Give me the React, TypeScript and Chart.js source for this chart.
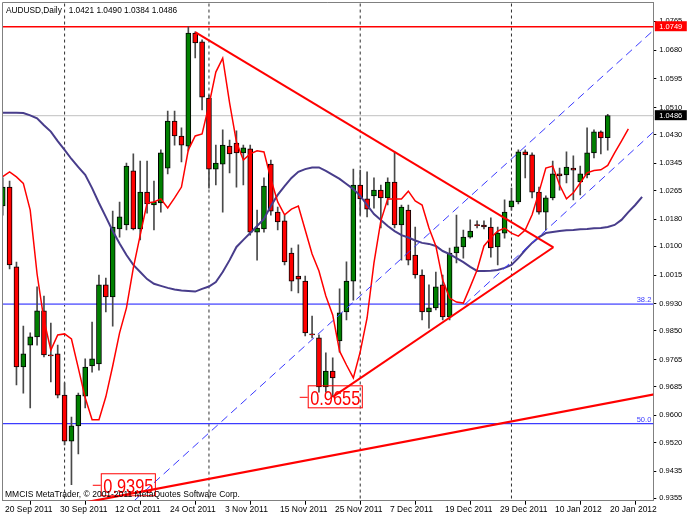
import React, { useEffect, useRef } from "react";
import { Chart, registerables } from "chart.js";

Chart.register(...registerables);

const FONT = "'Liberation Sans', Arial, sans-serif";

// ---------------- data ----------------
const symbolTitle = "AUDUSD,Daily";
const lastBarOHLC = ["1.0421", "1.0490", "1.0384", "1.0486"];
const copyrightText = "MMCIS MetaTrader, \u00A9 2001-2011 MetaQuotes Software Corp.";

const dateTickIndex = [0, 8, 16, 24, 32, 40, 48, 56, 64, 72, 80, 88];
const dateTickLabels = [
  "20 Sep 2011", "30 Sep 2011", "12 Oct 2011", "24 Oct 2011", "3 Nov 2011", "15 Nov 2011",
  "25 Nov 2011", "7 Dec 2011", "19 Dec 2011", "29 Dec 2011", "10 Jan 2012", "20 Jan 2012",
];
const priceTickLabels = [
  "0.9355", "0.9435", "0.9520", "0.9600", "0.9685", "0.9765", "0.9850", "0.9930", "1.0015",
  "1.0100", "1.0180", "1.0265", "1.0345", "1.0430", "1.0510", "1.0595", "1.0680", "1.0765",
];

const opens = [
  1.0219, 1.0275, 1.0039, 0.9743, 0.9808, 0.9832, 0.9909, 0.9779, 0.9782, 0.9660,
  0.9524, 0.9569, 0.9657, 0.9746, 0.9752, 0.9986, 0.9950, 1.0151, 1.0163, 1.0323,
  1.0151, 1.0260, 1.0222, 1.0228, 1.0331, 1.0470, 1.0426, 1.0396, 1.0730, 1.0704,
  1.0538, 1.0328, 1.0343, 1.0396, 1.0405, 1.0376, 1.0388, 1.0142, 1.0151, 1.0343,
  1.0201, 1.0175, 1.0080, 1.0012, 0.9997, 0.9841, 0.9829, 0.9684, 0.9731, 0.9820,
  0.9906, 0.9997, 1.0281, 1.0240, 1.0249, 1.0266, 1.0243, 1.0290, 1.0163, 1.0207,
  1.0074, 1.0015, 0.9906, 0.9918, 0.9986, 0.9891, 1.0080, 1.0098, 1.0127, 1.0163,
  1.0163, 1.0157, 1.0098, 1.0139, 1.0216, 1.0231, 1.0379, 1.0370, 1.0260, 1.0201,
  1.0243, 1.0314, 1.0311, 1.0331, 1.0290, 1.0311, 1.0376, 1.0438, 1.0421,
];
const highs = [
  1.0302, 1.0293, 1.0053, 0.9864, 0.9844, 0.9980, 0.9953, 0.9873, 0.9808, 0.9696,
  0.9595, 0.9666, 0.9767, 0.9876, 1.0015, 1.0006, 1.0204, 1.0231, 1.0346, 1.0373,
  1.0352, 1.0352, 1.0293, 1.0385, 1.0500, 1.0500, 1.0450, 1.0749, 1.0734, 1.0710,
  1.0547, 1.0399, 1.0444, 1.0414, 1.0441, 1.0399, 1.0399, 1.0207, 1.0302, 1.0355,
  1.0216, 1.0192, 1.0095, 1.0104, 1.0012, 0.9894, 0.9838, 0.9785, 0.9770, 0.9974,
  1.0054, 1.0328, 1.0325, 1.0320, 1.0302, 1.0281, 1.0302, 1.0379, 1.0222, 1.0222,
  1.0157, 1.0030, 0.9986, 1.0024, 1.0015, 1.0095, 1.0192, 1.0148, 1.0178, 1.0175,
  1.0175, 1.0184, 1.0157, 1.0237, 1.0272, 1.0385, 1.0385, 1.0376, 1.0275, 1.0249,
  1.0352, 1.0331, 1.0379, 1.0367, 1.0337, 1.0450, 1.0444, 1.0441, 1.0490,
];
const lows = [
  1.0192, 1.0033, 0.9690, 0.9666, 0.9622, 0.9808, 0.9773, 0.9699, 0.9652, 0.9513,
  0.9395, 0.9486, 0.9622, 0.9728, 0.9734, 0.9906, 0.9864, 1.0127, 1.0148, 1.0148,
  1.0119, 1.0198, 1.0148, 1.0201, 1.0314, 1.0399, 1.0349, 1.0382, 1.0657, 1.0503,
  1.0272, 1.0281, 1.0201, 1.0317, 1.0275, 1.0281, 1.0133, 1.0059, 1.0142, 1.0192,
  1.0148, 1.0045, 0.9968, 0.9962, 0.9835, 0.9829, 0.9669, 0.9669, 0.9655, 0.9787,
  0.9882, 0.9941, 1.0192, 1.0187, 1.0213, 1.0154, 1.0222, 1.0154, 1.0059, 1.0045,
  1.0006, 0.9882, 0.9858, 0.9912, 0.9882, 0.9882, 1.0051, 1.0065, 1.0124, 1.0154,
  1.0151, 1.0068, 1.0045, 1.0124, 1.0207, 1.0225, 1.0302, 1.0243, 1.0195, 1.0148,
  1.0237, 1.0266, 1.0287, 1.0237, 1.0252, 1.0302, 1.0361, 1.0373, 1.0384,
];
const closes = [
  1.0275, 1.0045, 0.9743, 0.9782, 0.9832, 0.9909, 0.9779, 0.9776, 0.9660, 0.9524,
  0.9569, 0.9660, 0.9743, 0.9767, 0.9986, 0.9950, 1.0157, 1.0187, 1.0337, 1.0151,
  1.0260, 1.0225, 1.0231, 1.0376, 1.0470, 1.0426, 1.0399, 1.0730, 1.0701, 1.0541,
  1.0328, 1.0346, 1.0399, 1.0373, 1.0376, 1.0391, 1.0142, 1.0154, 1.0278, 1.0204,
  1.0172, 1.0054, 0.9997, 1.0003, 0.9844, 0.9838, 0.9684, 0.9731, 0.9711, 0.9903,
  0.9997, 1.0281, 1.0240, 1.0210, 1.0266, 1.0243, 1.0290, 1.0163, 1.0216, 1.0059,
  1.0015, 0.9906, 0.9918, 0.9980, 0.9891, 1.0080, 1.0098, 1.0127, 1.0145, 1.0161,
  1.0157, 1.0095, 1.0139, 1.0201, 1.0234, 1.0379, 1.0370, 1.0260, 1.0201, 1.0243,
  1.0314, 1.0308, 1.0334, 1.0325, 1.0314, 1.0376, 1.0438, 1.0420, 1.0486,
];

// red shifted moving average (one value per bar, starting at bar 0)
const fastMA = [
  1.0306, 1.0320, 1.0305, 1.0286, 1.0207, 1.0018, 0.9882, 0.9793, 0.9838, 0.9841,
  0.9826, 0.9740, 0.9652, 0.9587, 0.9587, 0.9655, 0.9746, 0.9844, 0.9918, 1.0036,
  1.0133, 1.0228, 1.0231, 1.0240, 1.0213, 1.0243, 1.0275, 1.0385, 1.0426, 1.0432,
  1.0518, 1.0615, 1.0656, 1.0524, 1.0408, 1.0355, 1.0373, 1.0382, 1.0379, 1.0299,
  1.0231, 1.0193, 1.0210, 1.0219, 1.0148, 1.0077, 1.0027, 0.9953, 0.9897, 0.9790,
  0.9749, 0.9711, 0.9788, 0.9888, 1.0051, 1.0175, 1.0240, 1.0240, 1.0240, 1.0263,
  1.0234, 1.0222, 1.0154, 1.0101, 1.0000, 0.9947, 0.9935, 0.9932, 0.9980, 1.0030,
  1.0101, 1.0125, 1.0145, 1.0154, 1.0139, 1.0130, 1.0148, 1.0193, 1.0260, 1.0331,
  1.0337, 1.0281, 1.0240, 1.0258, 1.0287, 1.0317, 1.0324, 1.0326, 1.0339, 1.0376,
  1.0411, 1.0447,
];
// slow (dark slate blue) shifted moving average
const slowMA = [
  1.0495, 1.0495, 1.0495, 1.0494, 1.0487, 1.0478, 1.0458, 1.0439, 1.0411, 1.0385,
  1.0358, 1.0334, 1.0311, 1.0272, 1.0228, 1.0187, 1.0145, 1.0108, 1.0074, 1.0045,
  1.0024, 1.0003, 0.9989, 0.9983, 0.9977, 0.9972, 0.9969, 0.9968, 0.9966, 0.9974,
  0.9981, 0.9994, 1.0024, 1.0059, 1.0098, 1.0119, 1.0139, 1.0160, 1.0181, 1.0219,
  1.0252, 1.0278, 1.0302, 1.0320, 1.0328, 1.0333, 1.0333, 1.0323, 1.0311, 1.0299,
  1.0284, 1.0269, 1.0249, 1.0222, 1.0195, 1.0178, 1.0160, 1.0145, 1.0133, 1.0126,
  1.0117, 1.0110, 1.0107, 1.0101, 1.0086, 1.0077, 1.0065, 1.0053, 1.0039, 1.0027,
  1.0027, 1.0028, 1.0030, 1.0036, 1.0045, 1.0065, 1.0089, 1.0110, 1.0127, 1.0139,
  1.0142, 1.0145, 1.0147, 1.0148, 1.0150, 1.0151, 1.0153, 1.0154, 1.0157, 1.0163,
  1.0178, 1.0201, 1.0222, 1.0246,
];

const monthStartIndex = [9, 30, 52, 74];
const resistanceLevel = 1.0749;
const bidLevel = 1.0486;
const fibLevels = [0.9929, 0.9576];
const fibLabels = ["38.2", "50.0"];

const triangleTop = [{ x: 28, y: 1.0733 }, { x: 80.1, y: 1.0097 }];
const triangleBottom = [{ x: 48, y: 0.9655 }, { x: 80.1, y: 1.0097 }];
const supportLine = [{ x: 5, y: 0.9316 }, { x: 95, y: 0.9663 }];
const channelUpper = [{ x: 15, y: 0.9272 }, { x: 95.5, y: 1.0754 }];
const channelLower = [{ x: 67.2, y: 0.9928 }, { x: 95.5, y: 1.0454 }];

const noteIndex = [43.2, 13.1];
const noteValue = [0.9655, 0.9395];

// ---------------- component ----------------
export default function App() {
  const ref = useRef<HTMLCanvasElement>(null);

  useEffect(() => {
    const canvas = ref.current;
    if (!canvas) return;
    Chart.defaults.font.family = FONT;

    const X_MIN = -0.03, X_MAX = 94.63;
    const Y_MIN = 0.93479, Y_MAX = 1.08206;
    const UP = "#008000", DOWN = "#ff0000";

    const bodyData = opens.map((o, i) => ({ x: i, y: [Math.min(o, closes[i]), Math.max(o, closes[i])] }));
    const wickData = lows.map((l, i) => ({ x: i, y: [l, highs[i]] }));
    const bodyColors = opens.map((o, i) => (closes[i] >= o ? UP : DOWN));

    const lineDs = (data: any[], color: string, width: number, order: number, dash: number[] = []) => ({
      type: "line" as const,
      data,
      borderColor: color,
      borderWidth: width,
      borderDash: dash,
      pointRadius: 0,
      fill: false,
      tension: 0,
      order,
    });
    const hLine = (v: number) => [{ x: X_MIN - 2, y: v }, { x: X_MAX + 2, y: v }];
    const vLine = (i: number) => [{ x: i, y: Y_MIN - 0.01 }, { x: i, y: Y_MAX + 0.01 }];

    const datasets: any[] = [
      ...monthStartIndex.map((i) => lineDs(vLine(i), "#303030", 1, 20, [3, 3])),
      lineDs(hLine(bidLevel), "#c0c0c0", 1, 19),
      lineDs(hLine(fibLevels[0]), "#7878ff", 1.6, 19),
      lineDs(hLine(fibLevels[1]), "#3c3cff", 1.2, 19),
      lineDs(hLine(resistanceLevel), "#ff0000", 1.5, 19),
      {
        type: "bar",
        data: wickData,
        backgroundColor: "#4a4a4a",
        borderWidth: 0,
        barThickness: 1,
        grouped: false,
        order: 15,
      },
      {
        type: "bar",
        data: bodyData,
        backgroundColor: bodyColors,
        borderColor: "#000000",
        borderWidth: 1,
        borderSkipped: false,
        barThickness: 5,
        minBarLength: 1,
        grouped: false,
        order: 14,
      },
      lineDs(slowMA.map((v, i) => ({ x: i, y: v })), "#483d8b", 2, 10),
      lineDs(fastMA.map((v, i) => ({ x: i, y: v })), "#ff0000", 1.5, 9),
      lineDs(channelUpper, "#3a3aff", 1, 8, [8, 5]),
      lineDs(channelLower, "#3a3aff", 1, 8, [8, 5]),
      lineDs(triangleTop, "#ff0000", 2, 7),
      lineDs(triangleBottom, "#ff0000", 2, 7),
      lineDs(supportLine, "#ff0000", 2.2, 7),
    ];

    const overlay = {
      id: "mt4overlay",
      beforeDraw(chart: any) {
        const { ctx } = chart;
        ctx.save();
        ctx.fillStyle = "#ffffff";
        ctx.fillRect(0, 0, chart.width, chart.height);
        ctx.restore();
      },
      afterDraw(chart: any) {
        const { ctx, chartArea: a, scales } = chart;
        const xs = scales.x, ys = scales.y;
        ctx.save();
        // left/top frame
        ctx.strokeStyle = "#808080";
        ctx.lineWidth = 1;
        ctx.beginPath();
        ctx.moveTo(a.left, a.bottom);
        ctx.lineTo(a.left, a.top);
        ctx.lineTo(a.right, a.top);
        ctx.stroke();

        // fibo level labels
        ctx.font = `7.5px ${FONT}`;
        ctx.fillStyle = "#3b3bff";
        ctx.textAlign = "right";
        ctx.textBaseline = "alphabetic";
        fibLevels.forEach((lv, k) => ctx.fillText(fibLabels[k], a.right - 2, ys.getPixelForValue(lv) - 2));

        // price notes (condensed red text in a red frame)
        noteValue.forEach((v, k) => {
          const x0 = xs.getPixelForValue(noteIndex[k]);
          const y = ys.getPixelForValue(v);
          const text = v.toFixed(4);
          ctx.font = `21px ${FONT}`;
          const sx = 0.78;
          const w = ctx.measureText(text).width * sx + 4;
          ctx.strokeStyle = "#ff0000";
          ctx.lineWidth = 1;
          ctx.beginPath();
          ctx.moveTo(x0, y + 0.5);
          ctx.lineTo(x0 + 8, y + 0.5);
          ctx.stroke();
          ctx.strokeRect(x0 + 8.5, y - 11, w, 22);
          ctx.fillStyle = "#ff0000";
          ctx.textAlign = "left";
          ctx.save();
          ctx.translate(x0 + 10.5, y + 8);
          ctx.scale(sx, 1);
          ctx.fillText(text, 0, 0);
          ctx.restore();
        });

        // price-axis boxes
        const box = (v: number, bg: string) => {
          const y = ys.getPixelForValue(v);
          ctx.fillStyle = bg;
          ctx.fillRect(a.right + 1.5, y - 5.5, 32, 10);
          ctx.fillStyle = "#ffffff";
          ctx.font = `7.5px ${FONT}`;
          ctx.textAlign = "left";
          ctx.textBaseline = "middle";
          ctx.fillText(v.toFixed(4), a.right + 6, y);
        };
        box(resistanceLevel, "#ff0000");
        box(bidLevel, "#000000");

        // header and copyright
        ctx.fillStyle = "#000000";
        ctx.textAlign = "left";
        ctx.textBaseline = "alphabetic";
        ctx.font = `8.3px ${FONT}`;
        ctx.fillText(`${symbolTitle}   ${lastBarOHLC.join(" ")}`, 6, 12.7);
        ctx.font = `8.5px ${FONT}`;
        ctx.fillText(copyrightText, 5, 497.3);
        ctx.restore();
      },
    };

    const chart = new Chart(canvas, {
      type: "line",
      data: { datasets },
      plugins: [overlay],
      options: {
        responsive: false,
        animation: false,
        events: [],
        layout: { padding: { left: 2.5, top: 2.5, right: 0, bottom: 0 } },
        plugins: { legend: { display: false }, tooltip: { enabled: false }, title: { display: false } },
        scales: {
          x: {
            type: "linear",
            min: X_MIN,
            max: X_MAX,
            offset: false,
            afterBuildTicks: (s: any) => {
              s.ticks = dateTickIndex.map((v) => ({ value: v }));
            },
            afterFit: (s: any) => {
              s.height = 15.3;
              s.paddingLeft = 0;
              s.paddingRight = 0;
            },
            ticks: {
              autoSkip: false,
              maxRotation: 0,
              align: "start",
              labelOffset: 2.3,
              padding: 0,
              color: "#000000",
              font: { size: 8.5, family: FONT },
              callback: (v: any) => {
                const k = dateTickIndex.indexOf(Number(v));
                return k >= 0 ? dateTickLabels[k] : "";
              },
            },
            grid: { drawOnChartArea: false, drawTicks: true, tickLength: 4, color: "#000000" },
            border: { display: true, color: "#808080", width: 1 },
          },
          y: {
            type: "linear",
            position: "right",
            min: Y_MIN,
            max: Y_MAX,
            afterBuildTicks: (s: any) => {
              s.ticks = priceTickLabels.map((t) => ({ value: parseFloat(t) }));
            },
            afterFit: (s: any) => {
              s.width = 34.7;
              s.paddingTop = 0;
              s.paddingBottom = 0;
            },
            ticks: {
              autoSkip: false,
              padding: 3,
              color: "#000000",
              font: { size: 7.5, family: FONT },
              callback: (_v: any, idx: number) => priceTickLabels[idx],
            },
            grid: { drawOnChartArea: false, drawTicks: true, tickLength: 3, color: "#000000" },
            border: { display: true, color: "#808080", width: 1 },
          },
        },
      } as any,
    });

    return () => chart.destroy();
  }, []);

  return (
    <div style={{ position: "absolute", left: 0, top: 0, width: 688, height: 516, background: "#fff" }}>
      <canvas ref={ref} width={688} height={516} style={{ width: 688, height: 516, display: "block" }} />
    </div>
  );
}
